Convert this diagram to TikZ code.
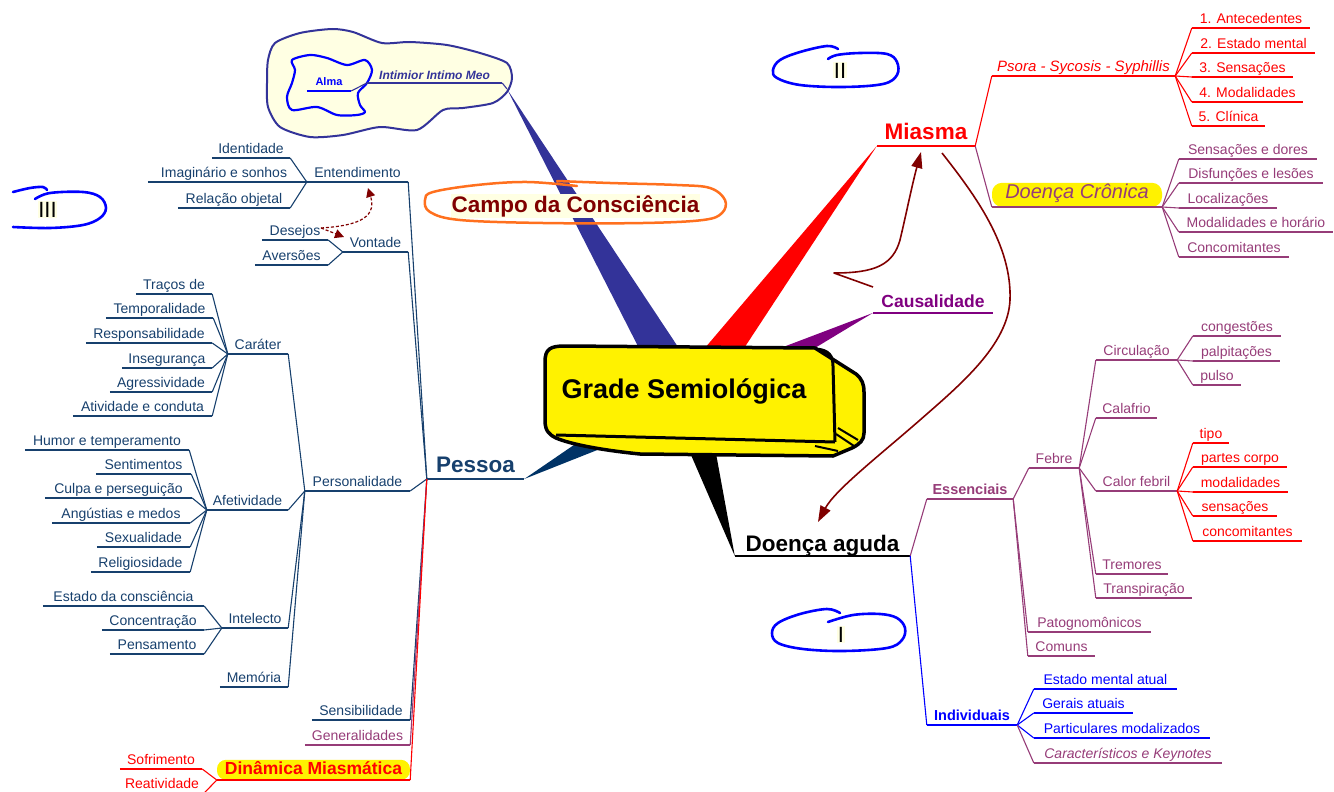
\documentclass[tikz,border=0pt]{standalone}
\usepackage{fontspec}
\setmainfont{Liberation Sans}
\usetikzlibrary{arrows.meta}

\definecolor{pnavy}{HTML}{17406D}
\definecolor{wnavy}{HTML}{003366}
\definecolor{mauve}{HTML}{963C78}
\definecolor{dred}{HTML}{800000}
\definecolor{slate}{HTML}{333399}
\definecolor{purp}{HTML}{800080}
\definecolor{cloudfill}{HTML}{FFFFE3}
\definecolor{orng}{HTML}{FF701E}

\newcommand\fsm{\fontsize{14}{16}\selectfont}
\newcommand\fbig{\fontsize{22.5}{26}\selectfont\bfseries}
\newcommand\fmid{\fontsize{17.5}{20}\selectfont\bfseries}
\newcommand\fess{\fontsize{14.5}{17}\selectfont\bfseries}

% labelled branch: [extra options]{colour}{name}{x left}{x right}{y of underline}{text}
\newcommand\mmnode[7][]{%
  \node[lbl, text=#2, minimum width=#5pt-#4pt, #1] (#3) at ({(#4+#5)/2},#6) {#7};
  \draw[#2, cn] (#3.south west) -- (#3.south east);
}

\tikzset{
  lbl/.style={inner xsep=0pt, inner ysep=0pt, text height=10pt, text depth=4.5pt,
              font=\fsm, anchor=south},
  cn/.style={line width=1.1pt},
  bigl/.style={font=\fbig, text height=16pt, text depth=6pt},
  roman/.style={font=\fontsize{22}{24}\selectfont, fill=cloudfill, inner sep=0.5pt, anchor=base},
  loop/.style={blue, line width=2.6pt, line cap=round},
  bigarrow/.style={dred, line width=1.6pt, -{Triangle[length=16pt,width=11pt]}},
  dasharrow/.style={dred, line width=1.2pt, dash pattern=on 3pt off 2pt,
                    -{Triangle[length=9pt,width=9pt]}},
}

\begin{document}
\begin{tikzpicture}[x=1pt,y=-1pt,line join=round]
\useasboundingbox (0,0) rectangle (1334,792);

% ---------- cloud with the soul ----------
\draw[slate, line width=2pt, fill=cloudfill] plot[smooth cycle, tension=0.45] coordinates
  {(275,43) (300,33) (332,29) (353,32) (382,43) (410,42) (447,45) (480,53) (507,63)
   (512,78) (507,92) (493,103) (463,108) (443,110) (417,130) (380,127) (343,135)
   (310,137) (280,127) (268,107) (267,83) (268,60)};
\draw[blue, line width=2.2pt] plot[smooth cycle, tension=0.5] coordinates
  {(292,60) (310,55) (327,58) (347,65) (365,60) (372,70) (367,83) (358,93) (360,105)
   (365,112) (357,115) (337,115) (317,107) (292,110) (287,97) (292,83) (295,70)};
\mmnode[font=\fontsize{11}{13}\selectfont\bfseries, text height=8pt, text depth=5pt]{blue}{alma}{307}{351}{91}{Alma}
\mmnode[font=\fontsize{12}{14}\selectfont\bfseries\itshape, text height=9pt, text depth=3pt]{slate}{intimior}{367}{502}{83}{Intimior Intimo Meo}
\coordinate (cltip) at (507,89);
\draw[slate, cn] (alma.south east) -- (intimior.south west);
\draw[slate, cn] (intimior.south east) -- (cltip);

% ---------- Pessoa ----------
\mmnode[bigl]{pnavy}{pessoa}{427}{524}{479}{Pessoa}
\mmnode{pnavy}{entend}{307}{408}{182}{Entendimento}
\mmnode{pnavy}{identid}{212}{290}{158}{Identidade}
\mmnode{pnavy}{imagin}{148}{300}{182}{Imaginário e sonhos}
\mmnode{pnavy}{relobj}{178}{290}{208}{Relação objetal}
\mmnode{pnavy}{vontade}{343}{408}{252}{Vontade}
\mmnode{pnavy}{desejos}{262}{328}{240}{Desejos}
\mmnode{pnavy}{aversoes}{255}{328}{265}{Aversões}
\mmnode{pnavy}{personal}{305}{410}{491}{Personalidade}
\mmnode{pnavy}{carater}{228}{288}{354}{Caráter}
\mmnode{pnavy}{tracos}{136}{212}{294}{Traços de}
\mmnode{pnavy}{tempor}{106}{213}{318}{Temporalidade}
\mmnode{pnavy}{respons}{86}{212}{343}{Responsabilidade}
\mmnode{pnavy}{insegur}{122}{212}{368}{Insegurança}
\mmnode{pnavy}{agress}{110}{212}{392}{Agressividade}
\mmnode{pnavy}{ativid}{73}{212}{416}{Atividade e conduta}
\mmnode{pnavy}{afetiv}{207}{288}{510}{Afetividade}
\mmnode{pnavy}{humor}{25}{189}{450}{Humor e temperamento}
\mmnode{pnavy}{sentim}{96}{191}{474}{Sentimentos}
\mmnode{pnavy}{culpa}{45}{192}{498}{Culpa e perseguição}
\mmnode{pnavy}{angust}{52}{190}{523}{Angústias e medos}
\mmnode{pnavy}{sexual}{97}{190}{547}{Sexualidade}
\mmnode{pnavy}{religios}{91}{190}{572}{Religiosidade}
\mmnode{pnavy}{intelecto}{222}{288}{628}{Intelecto}
\mmnode{pnavy}{estcons}{43}{204}{606}{Estado da consciência}
\mmnode{pnavy}{concent}{102}{204}{630}{Concentração}
\mmnode{pnavy}{pensam}{110}{204}{654}{Pensamento}
\mmnode{pnavy}{memoria}{220}{288}{687}{Memória}
\mmnode{pnavy}{sensib}{312}{410}{720}{Sensibilidade}
\mmnode{mauve}{general}{305}{410}{745}{Generalidades}
\mmnode[font=\fmid, fill=yellow, rounded corners=9pt, text height=12.5pt, text depth=2.5pt, inner ysep=2.5pt]{red}{dinamica}{217}{410}{780}{Dinâmica Miasmática}
\mmnode{red}{sofrim}{120}{202}{769}{Sofrimento}
\mmnode{red}{reativ}{120}{204}{793}{Reatividade}

\foreach \c in {entend,vontade,personal,sensib}
  \draw[pnavy, cn] (pessoa.south west) -- (\c.south east);
\draw[mauve, cn] (pessoa.south west) -- (general.south east);
\draw[red, cn] (pessoa.south west) -- (dinamica.south east);
\foreach \c in {identid,imagin,relobj}
  \draw[pnavy, cn] (entend.south west) -- (\c.south east);
\foreach \c in {desejos,aversoes}
  \draw[pnavy, cn] (vontade.south west) -- (\c.south east);
\foreach \c in {carater,afetiv,intelecto,memoria}
  \draw[pnavy, cn] (personal.south west) -- (\c.south east);
\foreach \c in {tracos,tempor,respons,insegur,agress,ativid}
  \draw[pnavy, cn] (carater.south west) -- (\c.south east);
\foreach \c in {humor,sentim,culpa,angust,sexual,religios}
  \draw[pnavy, cn] (afetiv.south west) -- (\c.south east);
\foreach \c in {estcons,concent,pensam}
  \draw[pnavy, cn] (intelecto.south west) -- (\c.south east);
\foreach \c in {sofrim,reativ}
  \draw[red, cn] (dinamica.south west) -- (\c.south east);

% dashed link between wishes and understanding
\coordinate (dstart) at (321,228);
\coordinate (dtipa) at (368,188);
\coordinate (dtipb) at (344,237);
\draw[dasharrow] (dstart) .. controls (352,226) and (378,220) .. (dtipa);
\draw[dasharrow] (dstart) -- (dtipb);

% ---------- Miasma ----------
\mmnode[bigl]{red}{miasma}{877}{975}{146}{Miasma}
\mmnode[font=\fontsize{15}{17}\selectfont\itshape, text height=11pt]{red}{psora}{992}{1175}{76}{Psora - Sycosis - Syphillis}
\mmnode{red}{antec}{1192}{1310}{28}{1. Antecedentes}
\mmnode{red}{estment}{1192}{1315}{53}{2. Estado mental}
\mmnode{red}{sensa}{1192}{1293}{77}{3. Sensações}
\mmnode{red}{modal}{1192}{1303}{102}{4. Modalidades}
\mmnode{red}{clin}{1192}{1265}{126}{5. Clínica}
\mmnode[font=\fontsize{20}{24}\selectfont\itshape, fill=yellow, rounded corners=10pt, text height=14pt, text depth=6pt, inner ysep=2pt]{mauve}{cronica}{992}{1162}{207}{Doença Crônica}
\mmnode{mauve}{sensdor}{1179}{1317}{159}{Sensações e dores}
\mmnode{mauve}{disfun}{1179}{1323}{183}{Disfunções e lesões}
\mmnode{mauve}{localiz}{1179}{1277}{208}{Localizações}
\mmnode{mauve}{modhor}{1179}{1333}{232}{Modalidades e horário}
\mmnode{mauve}{concoma}{1179}{1289}{257}{Concomitantes}

\draw[red, cn] (miasma.south east) -- (psora.south west);
\draw[mauve, cn] (miasma.south east) -- (cronica.south west);
\foreach \c in {antec,estment,sensa,modal,clin}
  \draw[red, cn] (psora.south east) -- (\c.south west);
\foreach \c in {sensdor,disfun,localiz,modhor,concoma}
  \draw[mauve, cn] (cronica.south east) -- (\c.south west);

% ---------- Causalidade ----------
\mmnode[font=\fmid, text height=12.5pt, text depth=5pt]{purp}{causal}{873}{993}{313}{Causalidade}

% ---------- Doença aguda ----------
\mmnode[bigl, text depth=4.5pt]{black}{aguda}{735}{910}{556}{Doença aguda}
\mmnode[font=\fess]{mauve}{essenc}{927}{1013}{499}{Essenciais}
\mmnode[font=\fess]{blue}{individ}{927}{1017}{725}{Individuais}
\mmnode{mauve}{febre}{1029}{1079}{468}{Febre}
\mmnode{mauve}{patog}{1028}{1151}{632}{Patognomônicos}
\mmnode{mauve}{comuns}{1028}{1095}{656}{Comuns}
\mmnode{mauve}{circ}{1096}{1177}{360}{Circulação}
\mmnode{mauve}{calafrio}{1096}{1157}{418}{Calafrio}
\mmnode{mauve}{calor}{1096}{1177}{491}{Calor febril}
\mmnode{mauve}{tremor}{1096}{1168}{574}{Tremores}
\mmnode{mauve}{transp}{1096}{1192}{598}{Transpiração}
\mmnode{mauve}{congest}{1193}{1281}{336}{congestões}
\mmnode{mauve}{palpit}{1193}{1280}{361}{palpitações}
\mmnode{mauve}{pulso}{1193}{1241}{385}{pulso}
\mmnode{red}{tipo}{1193}{1229}{443}{tipo}
\mmnode{red}{partes}{1193}{1287}{467}{partes corpo}
\mmnode{red}{modalid}{1193}{1288}{492}{modalidades}
\mmnode{red}{sensac}{1193}{1277}{516}{sensações}
\mmnode{red}{concomb}{1193}{1302}{541}{concomitantes}
\mmnode{blue}{estmat}{1034}{1177}{689}{Estado mental atual}
\mmnode{blue}{gerais}{1034}{1133}{713}{Gerais atuais}
\mmnode{blue}{partic}{1034}{1210}{738}{Particulares modalizados}
\mmnode[font=\fsm\itshape]{mauve}{caract}{1034}{1222}{763}{Característicos e Keynotes}

\draw[mauve, cn] (aguda.south east) -- (essenc.south west);
\draw[blue, cn] (aguda.south east) -- (individ.south west);
\foreach \c in {febre,patog,comuns}
  \draw[mauve, cn] (essenc.south east) -- (\c.south west);
\foreach \c in {circ,calafrio,calor,tremor,transp}
  \draw[mauve, cn] (febre.south east) -- (\c.south west);
\foreach \c in {congest,palpit,pulso}
  \draw[mauve, cn] (circ.south east) -- (\c.south west);
\foreach \c in {tipo,partes,modalid,sensac,concomb}
  \draw[red, cn] (calor.south east) -- (\c.south west);
\foreach \c in {estmat,gerais,partic}
  \draw[blue, cn] (individ.south east) -- (\c.south west);
\draw[mauve, cn] (individ.south east) -- (caract.south west);

% ---------- tapered spokes ----------
\fill[slate] (cltip) -- (646,362) -- (688,362) -- cycle;
\fill[red] (miasma.south west) -- (693,362) -- (735,362) -- cycle;
\fill[purp] (causal.south west) -- (800,357) -- (770,352) -- cycle;
\fill[wnavy] (pessoa.south east) -- (590,434) -- (620,441) -- cycle;
\fill[black] (aguda.south west) -- (688,448) -- (715,448) -- cycle;

% ---------- central block ----------
\filldraw[fill=yellow, draw=black, line width=3.5pt]
  (545,362) .. controls (545,349) and (550,346) .. (565,346) -- (815,348) -- (856,374)
  .. controls (862,379) and (864,384) .. (864,392) -- (864,433)
  .. controls (864,440) and (860,444) .. (852,448) -- (833,456) -- (640,454)
  .. controls (600,450) and (570,444) .. (556,438)
  .. controls (548,434) and (545,430) .. (545,420) -- cycle;
\draw[line width=3pt] (816,349) .. controls (829,350) and (833,356) .. (833,366) -- (835,442);
\draw[line width=3pt] (556,435) -- (835,442);
\draw[line width=2pt] (838,428) -- (858,440) (836,434) -- (854,446) (815,446) -- (838,451);
\node[font=\fontsize{27}{30}\selectfont\bfseries, anchor=base] (grade) at (684,398) {Grade Semiológica};

% ---------- field of consciousness ----------
\node[font=\fbig, text=dred, fill=cloudfill, inner sep=1pt, anchor=base] (campo) at (575.5,212) {Campo da Consciência};
\draw[orng, line width=2.5pt, line cap=round] plot[smooth, tension=0.6] coordinates
  {(557,181) (610,183) (677,185) (710,188) (725,200) (722,213) (703,220) (643,223)
   (543,223) (460,220) (430,212) (425,200) (433,192) (477,185) (527,182) (577,186)};

% ---------- causal arrows ----------
\coordinate (causa) at (873,287);
\coordinate (miasmatip) at (921,152);
\coordinate (miasmaout) at (942,153);
\coordinate (agudatip) at (818,522);
\draw[bigarrow] (causa) -- (834,273) .. controls (875,273) and (893,265) .. (900,240)
  .. controls (906,215) and (912,185) .. (miasmatip);
\draw[bigarrow] (miasmaout) .. controls (975,195) and (1012,245) .. (1010,300)
  .. controls (1008,345) and (960,385) .. (920,420)
  .. controls (880,455) and (835,490) .. (agudatip);

% ---------- numbered loops ----------
\node[roman] (numii) at (840,78) {II};
\draw[loop] plot[smooth, tension=0.6] coordinates
  {(838,49) (827,46) (800,52) (780,60) (773,70) (777,78) (800,85) (843,87) (883,84)
   (897,75) (897,62) (887,54) (860,53) (837,55) (828,59)};
\node[roman] (numi) at (841,642) {I};
\draw[loop] plot[smooth, tension=0.6] coordinates
  {(840,613) (827,609) (800,614) (778,623) (772,633) (778,643) (803,649) (843,651)
   (887,648) (902,640) (905,628) (897,618) (880,614) (853,615) (828,622)};
\node[roman] (numiii) at (47.5,217) {III};
\draw[loop] plot[smooth, tension=0.6] coordinates {(13,192) (30,188) (43,187) (47,190)};
\draw[loop] plot[smooth, tension=0.6] coordinates
  {(35,199) (50,193) (83,192) (100,197) (106,208) (100,218) (83,225) (50,228) (13,227)};
\end{tikzpicture}
\end{document}
